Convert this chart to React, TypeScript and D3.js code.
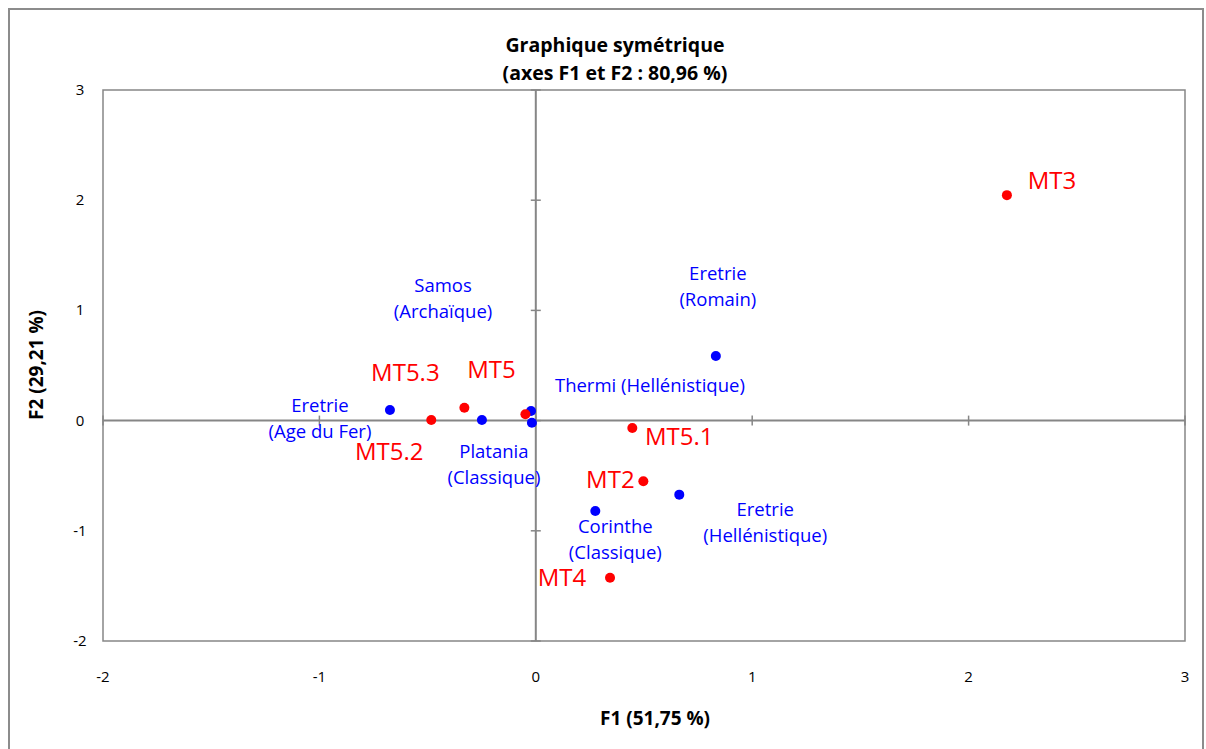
import React from "react";
import * as d3 from "d3";

const title1 = "Graphique symétrique";
const title2 = "(axes F1 et F2 : 80,96 %)";
const xTitle = "F1 (51,75 %)";
const yTitle = "F2 (29,21 %)";
const xTicks = [-2, -1, 0, 1, 2, 3];
const yTicks = [-2, -1, 0, 1, 2, 3];

// Columns (blue)
const colNames = [
  ["Samos", "(Archaïque)"],
  ["Thermi (Hellénistique)"],
  ["Eretrie", "(Age du Fer)"],
  ["Platania", "(Classique)"],
  ["Eretrie", "(Romain)"],
  ["Corinthe", "(Classique)"],
  ["Eretrie", "(Hellénistique)"],
];
const colF1 = [-0.022, -0.018, -0.674, -0.249, 0.832, 0.275, 0.663];
const colF2 = [0.087, -0.019, 0.096, 0.005, 0.586, -0.82, -0.672];

// Rows (red)
const rowNames = ["MT3", "MT5.3", "MT5", "MT5.2", "MT5.1", "MT2", "MT4"];
const rowF1 = [2.177, -0.33, -0.048, -0.483, 0.446, 0.497, 0.343];
const rowF2 = [2.046, 0.117, 0.057, 0.005, -0.067, -0.551, -1.426];

// label layout offsets (pixels, relative to point; anchor middle)
const colLabelOffsets = [
  [-88, -112],
  [118, -37],
  [-70, 9],
  [12, 45],
  [2, -69],
  [20, 29],
  [86, 28],
];
const rowLabelOffsets = [
  [45, -14],
  [-59, -35],
  [-34, -44],
  [-42, 32],
  [47, 9],
  [-33, -1],
  [-48, 0],
];

const W = 1206;
const H = 749;
const L = 103, R = 1185, T = 90, B = 641;
const axisColor = "#868686";
const font = "'Open Sans', 'Noto Sans', sans-serif";

export default function App() {
  const x = d3.scaleLinear().domain([-2, 3]).range([L, R]);
  const y = d3.scaleLinear().domain([-2, 3]).range([B, T]);
  const x0 = x(0);
  const y0 = y(0);
  return (
    <svg width={W} height={H} style={{ position: "absolute", left: 0, top: 0, background: "#fff" }}>
      <rect x={0} y={0} width={W} height={H} fill="#fff" />
      <rect x={9} y={9} width={1194} height={800} fill="none" stroke="#8c8c8c" strokeWidth={2} />
      <text x={615} y={52} textAnchor="middle" fontFamily={font} fontWeight="bold" fontSize={19.5}>{title1}</text>
      <text x={615} y={80} textAnchor="middle" fontFamily={font} fontWeight="bold" fontSize={19.5}>{title2}</text>
      <rect x={L} y={T} width={R - L} height={B - T} fill="none" stroke={axisColor} strokeWidth={1.5} />
      {/* zero lines */}
      <line x1={L} x2={R} y1={y0} y2={y0} stroke={axisColor} strokeWidth={2} />
      <line x1={x0} x2={x0} y1={T} y2={B} stroke={axisColor} strokeWidth={2} />
      {xTicks.map((t) => (
        <g key={"xt" + t}>
          <line x1={x(t)} x2={x(t)} y1={y0 - 5} y2={y0 + 5} stroke={axisColor} strokeWidth={1.5} />
          <text x={x(t)} y={682} textAnchor="middle" fontFamily={font} fontSize={15}>{t}</text>
        </g>
      ))}
      {yTicks.map((t) => (
        <g key={"yt" + t}>
          <line x1={x0 - 5} x2={x0 + 5} y1={y(t)} y2={y(t)} stroke={axisColor} strokeWidth={1.5} />
          <text x={80} y={y(t) + 5} textAnchor="middle" fontFamily={font} fontSize={15}>{t}</text>
        </g>
      ))}
      <text x={655} y={725} textAnchor="middle" fontFamily={font} fontWeight="bold" fontSize={19}>{xTitle}</text>
      <text transform={`translate(43,365) rotate(-90)`} textAnchor="middle" fontFamily={font} fontWeight="bold" fontSize={19}>{yTitle}</text>
      {colF1.map((v, i) => (
        <circle key={"c" + i} cx={x(v)} cy={y(colF2[i])} r={5} fill="#0000ff" />
      ))}
      {rowF1.map((v, i) => (
        <circle key={"r" + i} cx={x(v)} cy={y(rowF2[i])} r={5} fill="#ff0000" />
      ))}
      {colNames.map((lines, i) => {
        const cx = x(colF1[i]) + colLabelOffsets[i][0];
        const cy = y(colF2[i]) + colLabelOffsets[i][1];
        const n = lines.length;
        return (
          <text key={"cl" + i} textAnchor="middle" fontFamily={font} fontSize={18.5} fill="#0000ff">
            {lines.map((ln, j) => (
              <tspan key={j} x={cx} y={cy + (j - (n - 1) / 2) * 26 + 6}>{ln}</tspan>
            ))}
          </text>
        );
      })}
      {rowNames.map((nm, i) => (
        <text key={"rl" + i} x={x(rowF1[i]) + rowLabelOffsets[i][0]} y={y(rowF2[i]) + rowLabelOffsets[i][1] + 8}
          textAnchor="middle" fontFamily={font} fontSize={24} fill="#ff0000">{nm}</text>
      ))}
    </svg>
  );
}
